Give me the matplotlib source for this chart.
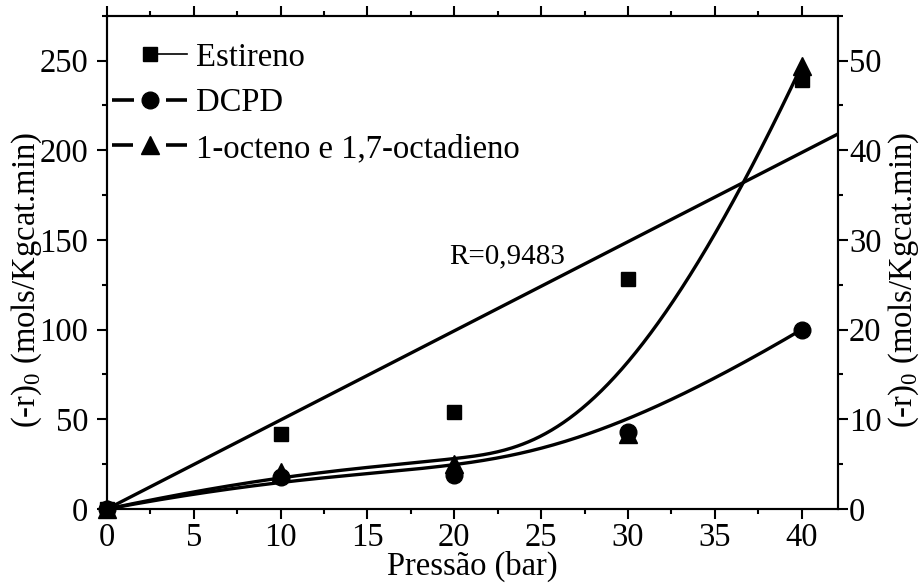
import numpy as np
import matplotlib
matplotlib.use("Agg")
import matplotlib.pyplot as plt
from matplotlib.lines import Line2D
from matplotlib.legend_handler import HandlerBase
from matplotlib.ticker import MultipleLocator

plt.rcParams["font.family"] = ["Liberation Serif", "DejaVu Serif"]
plt.rcParams["mathtext.fontset"] = "custom"
plt.rcParams["mathtext.rm"] = "Liberation Serif"

# pressure (bar) and initial rates
pressao = [0, 10, 20, 30, 40]
estireno = [0, 42, 54, 128, 239]        # left axis
dcpd = [0, 3.6, 3.8, 8.6, 20.0]         # right axis
octeno = [0, 4.1, 5.0, 8.4, 49.4]       # right axis
r_text = "R=0,9483"


def bspline(px, py, k=3, n=300):
    # clamped uniform B-spline using the points as control points
    px = np.asarray(px, float)
    py = np.asarray(py, float)
    m = len(px)
    inner = np.arange(1, m - k)
    knots = np.concatenate([np.zeros(k + 1), inner, np.full(k + 1, m - k)])
    t = np.linspace(0, m - k, n)
    t[-1] -= 1e-9
    N = np.zeros((n, len(knots) - 1))
    for i in range(len(knots) - 1):
        N[:, i] = (t >= knots[i]) & (t < knots[i + 1])
    for d in range(1, k + 1):
        Nn = np.zeros((n, len(knots) - 1 - d))
        for i in range(len(knots) - 1 - d):
            a = knots[i + d] - knots[i]
            b = knots[i + d + 1] - knots[i + 1]
            left = (t - knots[i]) / a * N[:, i] if a > 0 else 0
            right = (knots[i + d + 1] - t) / b * N[:, i + 1] if b > 0 else 0
            Nn[:, i] = left + right
        N = Nn
    return N @ px, N @ py


fig = plt.figure(figsize=(9.22, 5.83), dpi=100)
ax = fig.add_axes([0.1161, 0.1269, 0.7928, 0.8461])
ax2 = ax.twinx()

x = np.array(pressao, float)
y = np.array(estireno, float)
slope = np.sum(x * y) / np.sum(x * x)
xf = np.array([0, 42.1])

lw = 2.4
ax.plot(xf, slope * xf, color="k", lw=lw, solid_capstyle="butt")
ax.plot(pressao, estireno, "s", color="k", ms=10.5, clip_on=False, zorder=5)

bx, by = bspline(pressao, dcpd)
ax2.plot(bx, by, color="k", lw=lw)
ax2.plot(pressao, dcpd, "o", color="k", ms=12, clip_on=False, zorder=5)
bx, by = bspline(pressao, octeno)
ax2.plot(bx, by, color="k", lw=lw)
ax2.plot(pressao, octeno, "^", color="k", ms=12.5, clip_on=False, zorder=6)

ax.set_xlim(0, 42.1)
ax.set_ylim(0, 275)
ax2.set_ylim(0, 55)

fs = 23.5
ax.xaxis.set_major_locator(MultipleLocator(5))
ax.xaxis.set_minor_locator(MultipleLocator(2.5))
ax.yaxis.set_major_locator(MultipleLocator(50))
ax.yaxis.set_minor_locator(MultipleLocator(25))
ax2.yaxis.set_major_locator(MultipleLocator(10))
ax2.yaxis.set_minor_locator(MultipleLocator(5))
for a in (ax, ax2):
    a.tick_params(which="major", direction="out", length=7, width=1.5,
                  labelsize=fs, pad=3)
    a.tick_params(which="minor", direction="out", length=3.8, width=1.5)
    for s in a.spines.values():
        s.set_linewidth(1.5)
ax.tick_params(which="both", top=True, labeltop=False)
ax.tick_params(axis="y", which="major", pad=6.5)
ax2.tick_params(axis="y", which="major", pad=1)

ax.set_xlabel("Pressão (bar)", fontsize=fs)
ax.xaxis.set_label_coords(0.5, -0.085)
ylab = "(-r)$_0$ (mols/Kgcat.min)"
ax.set_ylabel(ylab, fontsize=fs)
ax.yaxis.set_label_coords(-0.086, 0.464)
ax2.set_ylabel(ylab, fontsize=fs)
ax2.yaxis.set_label_coords(1.066, 0.464)

ax.text(19.7, 141, r_text, fontsize=21, va="center", ha="left")


class SquareHandler(HandlerBase):
    # marker in the middle, thin line only on its right side
    def create_artists(self, legend, orig_handle, xdescent, ydescent,
                       width, height, fontsize, trans):
        yc = height / 2 - ydescent
        xm = width / 2 - xdescent
        line = Line2D([xm, width - xdescent], [yc, yc], color="k", lw=1.2,
                      transform=trans)
        mark = Line2D([xm], [yc], marker="s", ms=10.5, color="k", ls="",
                      transform=trans)
        return [line, mark]


class GapHandler(HandlerBase):
    # line - marker - line, with a small gap around the marker
    def __init__(self, marker, ms, gap):
        super().__init__()
        self.marker = marker
        self.ms = ms
        self.gap = gap

    def create_artists(self, legend, orig_handle, xdescent, ydescent,
                       width, height, fontsize, trans):
        yc = height / 2 - ydescent
        x0 = -xdescent
        x1 = width - xdescent
        xm = (x0 + x1) / 2
        g = self.gap
        l1 = Line2D([x0, xm - g], [yc, yc], color="k", lw=2.6,
                    solid_capstyle="butt", transform=trans)
        l2 = Line2D([xm + g, x1], [yc, yc], color="k", lw=2.6,
                    solid_capstyle="butt", transform=trans)
        mark = Line2D([xm], [yc], marker=self.marker, ms=self.ms, color="k",
                      ls="", transform=trans)
        return [l1, l2, mark]


h_est = Line2D([], [], marker="s", color="k")
h_dcpd = Line2D([], [], marker="o", color="k")
h_oct = Line2D([], [], marker="^", color="k")
ax.legend([h_est, h_dcpd, h_oct],
          ["Estireno", "DCPD", "1-octeno e 1,7-octadieno"],
          handler_map={h_est: SquareHandler(),
                       h_dcpd: GapHandler("o", 12, 11.5),
                       h_oct: GapHandler("^", 12.5, 12)},
          loc="upper left", bbox_to_anchor=(0.007, 0.946), frameon=False,
          fontsize=fs, borderpad=0, borderaxespad=0, handlelength=2.3,
          handletextpad=0.28, labelspacing=0.46)

fig.savefig("out.png", dpi=100)
